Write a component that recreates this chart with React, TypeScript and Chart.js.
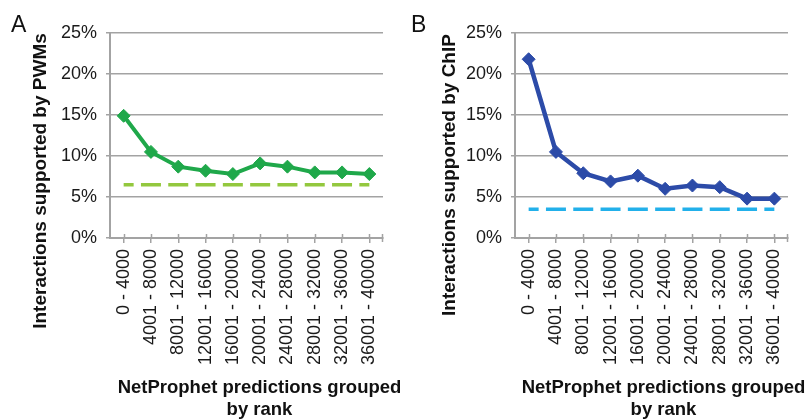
import React, { useEffect, useRef } from "react";
import { Chart, registerables } from "chart.js";

Chart.register(...registerables);

// ---- data ----
const categories = [
  "0 - 4000",
  "4001 - 8000",
  "8001 - 12000",
  "12001 - 16000",
  "16001 - 20000",
  "20001 - 24000",
  "24001 - 28000",
  "28001 - 32000",
  "32001 - 36000",
  "36001 - 40000",
];
const pwmValues = [14.9, 10.5, 8.7, 8.2, 7.8, 9.1, 8.7, 8.0, 8.0, 7.8];
const pwmBaseline = [6.5, 6.5, 6.5, 6.5, 6.5, 6.5, 6.5, 6.5, 6.5, 6.5];
const chipValues = [21.8, 10.5, 7.9, 6.9, 7.6, 6.0, 6.4, 6.2, 4.8, 4.8];
const chipBaseline = [3.5, 3.5, 3.5, 3.5, 3.5, 3.5, 3.5, 3.5, 3.5, 3.5];
const yMin = 0;
const yMax = 25;
const yStep = 5;
const xTitleLines = ["NetProphet predictions grouped", "by rank"];

// ---- style ----
const FONT = "'Liberation Sans', Arial, Helvetica, sans-serif";
const AXIS_COLOR = "#a3a3a3";
const TEXT_COLOR = "#1a1a1a";

const decorPlugin = {
  id: "decor",
  beforeDatasetsDraw(chart: any) {
    const { ctx, chartArea } = chart;
    const xs = chart.scales.x;
    ctx.save();
    ctx.strokeStyle = AXIS_COLOR;
    ctx.lineWidth = 1.5;
    for (let i = 0; i < categories.length; i++) {
      const px = Math.round(xs.getPixelForValue(i)) + 0.5;
      ctx.beginPath();
      ctx.moveTo(px, chartArea.bottom - 4);
      ctx.lineTo(px, chartArea.bottom);
      ctx.stroke();
    }
    const rx = Math.round(chartArea.right) - 0.5;
    ctx.beginPath();
    ctx.moveTo(rx, chartArea.bottom - 4);
    ctx.lineTo(rx, chartArea.bottom + 4);
    ctx.stroke();
    ctx.restore();
  },
  afterDraw(chart: any, _args: any, opts: any) {
    const { ctx, chartArea } = chart;
    ctx.save();
    ctx.fillStyle = "#111";
    // panel letter
    ctx.font = `23px ${FONT}`;
    ctx.textAlign = "left";
    ctx.textBaseline = "alphabetic";
    ctx.fillText(opts.letter, opts.letterX, opts.letterY);
    // y title
    ctx.save();
    ctx.translate(chartArea.left + opts.yTitleDX, opts.yTitleY);
    ctx.rotate(-Math.PI / 2);
    ctx.font = `bold 19px ${FONT}`;
    ctx.textAlign = "center";
    ctx.textBaseline = "middle";
    ctx.fillText(opts.yTitle, 0, 0);
    ctx.restore();
    // x title
    ctx.font = `bold 18.5px ${FONT}`;
    ctx.textAlign = "center";
    ctx.textBaseline = "alphabetic";
    const cx = (chartArea.left + chartArea.right) / 2 + opts.xTitleDX;
    xTitleLines.forEach((line, i) => {
      ctx.fillText(line, cx, opts.xTitleY + i * opts.xTitleLH);
    });
    ctx.restore();
  },
};

type PanelProps = {
  values: number[];
  baseline: number[];
  lineColor: string;
  dashColor: string;
  lineWidth: number;
  width: number;
  yAxisWidth: number;
  padRight: number;
  letter: string;
  yTitle: string;
  yTitleDX: number;
  yTitleY: number;
  xTitleDX: number;
};

function Panel(p: PanelProps) {
  const ref = useRef<HTMLCanvasElement>(null);
  useEffect(() => {
    if (!ref.current) return;
    const chart = new Chart(ref.current, {
      type: "line",
      data: {
        labels: categories,
        datasets: [
          {
            data: p.values,
            borderColor: p.lineColor,
            backgroundColor: p.lineColor,
            borderWidth: p.lineWidth,
            pointStyle: "rectRot",
            pointRadius: 6.5,
            pointBorderWidth: 1,
            tension: 0,
            order: 0,
          },
          {
            data: p.baseline,
            borderColor: p.dashColor,
            borderWidth: 3.5,
            borderDash: [20, 7.3],
            borderDashOffset: 10,
            borderCapStyle: "butt",
            pointRadius: 0,
            order: 1,
          },
        ],
      },
      plugins: [decorPlugin],
      options: {
        animation: false,
        responsive: false,
        events: [],
        layout: { padding: { top: 33, right: p.padRight, left: 0, bottom: 0 } },
        plugins: {
          legend: { display: false },
          tooltip: { enabled: false },
          decor: {
            letter: p.letter,
            letterX: 11,
            letterY: 32,
            yTitle: p.yTitle,
            yTitleDX: p.yTitleDX,
            yTitleY: p.yTitleY,
            xTitleDX: p.xTitleDX,
            xTitleY: 393,
            xTitleLH: 22,
          },
        } as any,
        scales: {
          x: {
            type: "category",
            offset: true,
            grid: {
              display: true,
              drawOnChartArea: false,
              offset: false,
              tickLength: 5,
              color: AXIS_COLOR,
              lineWidth: 1.5,
            },
            border: { display: true, color: AXIS_COLOR, width: 2 },
            ticks: {
              autoSkip: false,
              maxRotation: 90,
              minRotation: 90,
              padding: 6,
              color: TEXT_COLOR,
              font: { family: FONT, size: 18 },
            },
            afterFit: (s: any) => {
              s.height = 419 - 238;
            },
          },
          y: {
            min: yMin,
            max: yMax,
            grid: {
              color: AXIS_COLOR,
              lineWidth: 1.5,
              tickLength: 4,
            },
            border: { display: true, color: AXIS_COLOR, width: 2 },
            ticks: {
              stepSize: yStep,
              padding: 9,
              color: TEXT_COLOR,
              font: { family: FONT, size: 18 },
              callback: (v: any) => `${v}%`,
            },
            afterFit: (s: any) => {
              s.width = p.yAxisWidth;
            },
          },
        },
      } as any,
    });
    return () => chart.destroy();
  }, []);
  return (
    <canvas
      ref={ref}
      width={p.width}
      height={419}
      style={{ display: "block", width: p.width, height: 419 }}
    />
  );
}

export default function App() {
  return (
    <div
      style={{
        position: "absolute",
        left: 0,
        top: 0,
        width: 809,
        height: 419,
        background: "#fff",
        display: "flex",
      }}
    >
      <Panel
        values={pwmValues}
        baseline={pwmBaseline}
        lineColor="#1fa84a"
        dashColor="#93c83e"
        lineWidth={4}
        width={400}
        yAxisWidth={110}
        padRight={17}
        letter="A"
        yTitle="Interactions supported by PWMs"
        yTitleDX={-69}
        yTitleY={181}
        xTitleDX={13}
      />
      <Panel
        values={chipValues}
        baseline={chipBaseline}
        lineColor="#2c4ba8"
        dashColor="#22b0ea"
        lineWidth={4.5}
        width={409}
        yAxisWidth={115}
        padRight={21}
        letter="B"
        yTitle="Interactions supported by ChIP"
        yTitleDX={-65}
        yTitleY={175}
        xTitleDX={12}
      />
    </div>
  );
}
